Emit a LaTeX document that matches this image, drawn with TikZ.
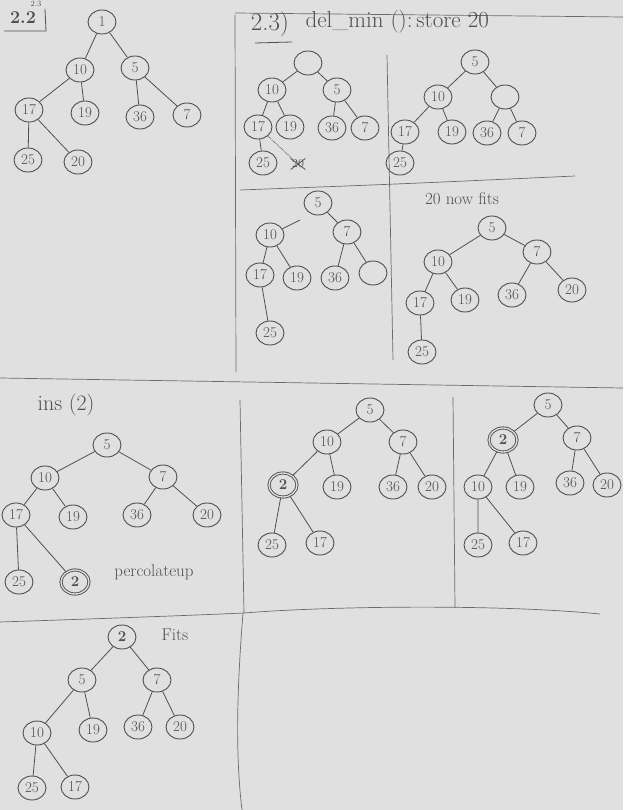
\documentclass[tikz,border=0pt]{standalone}
\usetikzlibrary{shapes.geometric,shapes.misc}
\definecolor{paper}{HTML}{E0E0E0}
\definecolor{pen}{HTML}{505050}
\tikzset{
  hn/.style={ellipse,draw=pen,line width=0.9pt,text=pen,inner sep=0pt,
     minimum width=28pt,minimum height=24pt,font=\fontsize{15}{15}\selectfont},
  hnd/.style={hn,double=paper,double distance=1.3pt,font=\fontsize{15}{15}\selectfont\bfseries},
  ed/.style={draw=pen,line width=0.8pt},
  frame/.style={draw=pen!85,line width=0.7pt},
  hw/.style={text=pen,font=\fontsize{17}{17}\selectfont},
  ttl/.style={text=pen,font=\fontsize{25}{25}\selectfont}
}
\begin{document}
\begin{tikzpicture}[x=1pt,y=-1pt]
\useasboundingbox (0,0) rectangle (623,810);
\clip (0,0) rectangle (623,810);
\fill[paper] (0,0) rectangle (623,810);
% ---------- frames ----------
\draw[frame] (235,15) -- (236,372);
\draw[frame] (235,13) -- (623,17);
\draw[frame] (387,55) -- (393,360);
\draw[frame] (240,190) .. controls (400,184) .. (575,176);
\draw[frame] (0,378) -- (623,388);
\draw[frame] (240,400) -- (244,613);
\draw[frame] (453,397) -- (455,608);
\draw[frame] (0,622) .. controls (120,618) and (200,615) .. (244,613) .. controls (330,606) and (500,604) .. (600,614);
\draw[frame] (243,613) .. controls (236,700) and (236,760) .. (242,810);
% ---------- top title ----------
\node[text=pen,font=\fontsize{8}{8}\selectfont,anchor=north,inner sep=0.5pt] (cut) at (36,0) {2.3};
% ---------- 2.2 ----------
\node[text=pen,font=\fontsize{18}{18}\selectfont\bfseries] (t22) at (23,18) {2.2};
\coordinate (b1) at (4,31); \coordinate (b2) at (46,31); \coordinate (b3) at (45,9);
\draw[ed] (b1) -- (b2) -- (b3);
\node[hn] (a1) at (102,22) {1};
\node[hn] (a10) at (80,70) {10};
\node[hn] (a5) at (135,68) {5};
\node[hn] (a17) at (29,110) {17};
\node[hn] (a19) at (85,113) {19};
\node[hn] (a36) at (140,117) {36};
\node[hn] (a7) at (187,115) {7};
\node[hn] (a25) at (28,160) {25};
\node[hn] (a20) at (78,162) {20};
\draw[ed] (a1)--(a10) (a1)--(a5) (a10)--(a17) (a10)--(a19) (a5)--(a36) (a5)--(a7) (a17)--(a25) (a17)--(a20);
% ---------- 2.3 title ----------
\node[ttl] (t23) at (270,24) {2.3)};
\coordinate (u1) at (255,43); \coordinate (u2) at (292,42);
\draw[ed] (u1) -- (u2);
\node[ttl,font=\fontsize{23}{23}\selectfont,anchor=west] (tdm) at (302,22) {del\_min ():\,store 20};
% ---------- tree A ----------
\node[hn] (br) at (308,63) {};
\node[hn] (b10) at (272,90) {10};
\node[hn] (b5) at (337,90) {5};
\node[hn] (b17) at (258,127) {17};
\node[hn] (b19) at (290,127) {19};
\node[hn] (b36) at (332,128) {36};
\node[hn] (b7) at (365,128) {7};
\node[hn] (b25) at (263,163) {25};
\node[cross out,draw=pen,line width=0.8pt,text=pen,inner sep=1pt,font=\fontsize{12}{12}\selectfont] (bx) at (298,164) {20};
\draw[ed] (br)--(b10) (br)--(b5) (b10)--(b17) (b10)--(b19) (b5)--(b36) (b5)--(b7) (b17)--(b25);
\draw[ed,densely dotted] (b17)--(bx);
% ---------- tree B ----------
\node[hn] (c5) at (475,62) {5};
\node[hn] (c10) at (438,97) {10};
\node[hn] (ce) at (505,97) {};
\node[hn] (c17) at (405,132) {17};
\node[hn] (c19) at (452,132) {19};
\node[hn] (c36) at (487,133) {36};
\node[hn] (c7) at (522,133) {7};
\node[hn] (c25) at (400,163) {25};
\draw[ed] (c5)--(c10) (c5)--(ce) (c10)--(c17) (c10)--(c19) (ce)--(c36) (ce)--(c7) (c17)--(c25);
% ---------- tree C ----------
\node[hn] (d5) at (318,203) {5};
\node[hn] (d10) at (270,235) {10};
\node[hn] (d7) at (347,232) {7};
\node[hn] (d17) at (260,275) {17};
\node[hn] (d19) at (297,278) {19};
\node[hn] (d36) at (335,278) {36};
\node[hn] (de) at (373,273) {};
\node[hn] (d25) at (270,333) {25};
\coordinate (dgap) at (300,220);
\draw[ed] (d10)--(dgap) (d5)--(d7) (d10)--(d17) (d10)--(d19) (d7)--(d36) (d7)--(de) (d17)--(d25);
% ---------- tree D ----------
\node[hw] (tfit) at (462,199) {20 now fits};
\node[hn] (e5) at (492,228) {5};
\node[hn] (e10) at (438,262) {10};
\node[hn] (e7) at (537,252) {7};
\node[hn] (e17) at (420,303) {17};
\node[hn] (e19) at (465,300) {19};
\node[hn] (e36) at (512,295) {36};
\node[hn] (e20) at (572,290) {20};
\node[hn] (e25) at (422,352) {25};
\draw[ed] (e5)--(e10) (e5)--(e7) (e10)--(e17) (e10)--(e19) (e7)--(e36) (e7)--(e20) (e17)--(e25);
% ---------- ins(2) ----------
\node[ttl,font=\fontsize{22}{22}\selectfont] (tins) at (66,405) {ins (2)};
\node[hn] (f5) at (107,445) {5};
\node[hn] (f10) at (45,478) {10};
\node[hn] (f7) at (163,477) {7};
\node[hn] (f17) at (16,515) {17};
\node[hn] (f19) at (73,517) {19};
\node[hn] (f36) at (137,515) {36};
\node[hn] (f20) at (207,515) {20};
\node[hn] (f25) at (19,582) {25};
\node[hnd] (f2) at (75,582) {2};
\node[hw] (tperc) at (154,572) {percolateup};
\draw[ed] (f5)--(f10) (f5)--(f7) (f10)--(f17) (f10)--(f19) (f7)--(f36) (f7)--(f20) (f17)--(f25) (f17)--(f2);
% ---------- tree E ----------
\node[hn] (g5) at (370,410) {5};
\node[hn] (g10) at (327,442) {10};
\node[hn] (g7) at (403,442) {7};
\node[hnd] (g2) at (283,485) {2};
\node[hn] (g19) at (337,487) {19};
\node[hn] (g36) at (393,487) {36};
\node[hn] (g20) at (432,487) {20};
\node[hn] (g25) at (272,545) {25};
\node[hn] (g17) at (320,543) {17};
\draw[ed] (g5)--(g10) (g5)--(g7) (g10)--(g2) (g10)--(g19) (g7)--(g36) (g7)--(g20) (g2)--(g25) (g2)--(g17);
% ---------- tree F ----------
\node[hn] (h5) at (548,405) {5};
\node[hnd] (h2) at (503,440) {2};
\node[hn] (h7) at (577,438) {7};
\node[hn] (h10) at (478,487) {10};
\node[hn] (h19) at (520,487) {19};
\node[hn] (h36) at (570,483) {36};
\node[hn] (h20) at (607,485) {20};
\node[hn] (h25) at (478,545) {25};
\node[hn] (h17) at (523,543) {17};
\draw[ed] (h5)--(h2) (h5)--(h7) (h2)--(h10) (h2)--(h19) (h7)--(h36) (h7)--(h20) (h10)--(h25) (h10)--(h17);
% ---------- tree G ----------
\node[hn,font=\fontsize{15}{15}\selectfont\bfseries] (k2) at (122,637) {2};
\node[hw] (tfits) at (175,635) {Fits};
\node[hn] (k5) at (82,680) {5};
\node[hn] (k7) at (157,680) {7};
\node[hn] (k10) at (37,733) {10};
\node[hn] (k19) at (93,730) {19};
\node[hn] (k36) at (138,727) {36};
\node[hn] (k20) at (180,727) {20};
\node[hn] (k25) at (32,788) {25};
\node[hn] (k17) at (75,787) {17};
\draw[ed] (k2)--(k5) (k2)--(k7) (k5)--(k10) (k5)--(k19) (k7)--(k36) (k7)--(k20) (k10)--(k25) (k10)--(k17);
\end{tikzpicture}
\end{document}
